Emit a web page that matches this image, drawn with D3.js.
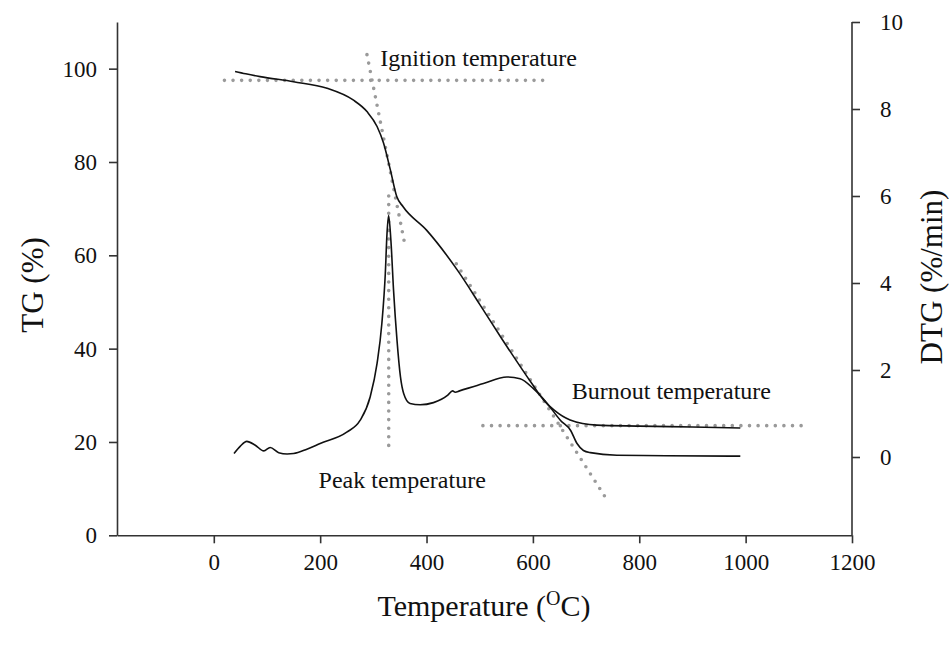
<!DOCTYPE html>
<html>
<head>
<meta charset="utf-8">
<script src="https://cdn.jsdelivr.net/npm/d3@7"></script>
<style>
  body { margin: 0; background: #fff; }
  svg { display: block; font-family: "Liberation Serif", "Times New Roman", serif; }
</style>
</head>
<body>
<svg id="chart" width="949" height="647"></svg>
<script>
// TG curve (temperature in C, mass %)
const tgTemp = [40, 60, 87, 150, 213, 262, 288, 307, 319, 332, 344, 356, 400, 460, 500, 540, 600, 620, 640, 670, 720, 800, 900, 990];
const tgVals = [99.4, 98.9, 98.3, 97.2, 95.8, 93.3, 90.8, 87.6, 84.1, 78.3, 72.6, 70.4, 65.4, 56.5, 49.5, 42.4, 32.2, 29.0, 26.8, 24.7, 23.6, 23.4, 23.2, 23.0];

// DTG curve (temperature in C, %/min)
const dtgTemp = [38, 50, 62, 78, 94, 106, 122, 138, 150, 175, 200, 250, 275, 294, 307, 316, 322.5, 325.7, 328.7, 333, 338, 344.5, 351, 357, 369, 388, 413, 440, 449, 454, 462, 507, 551, 576, 601, 627, 652, 671, 683, 695, 708, 758, 850, 990];
const dtgVals = [0.08, 0.25, 0.36, 0.27, 0.14, 0.22, 0.10, 0.07, 0.08, 0.18, 0.31, 0.57, 0.84, 1.38, 2.15, 3.07, 4.22, 5.14, 5.55, 4.98, 3.83, 2.68, 1.84, 1.46, 1.23, 1.20, 1.25, 1.42, 1.52, 1.49, 1.52, 1.69, 1.84, 1.80, 1.57, 1.23, 0.84, 0.61, 0.31, 0.15, 0.10, 0.04, 0.03, 0.02];

// construction lines, in data units [[T, value], [T, value]]
const ignitionLevel = [[20, 97.5], [625, 97.5]];
const ignitionTangent = [[288, 103.0], [360, 61.9]];
const burnoutTangent = [[456, 58.2], [736, 8.2]];
const burnoutLevel = [[506, 23.5], [1110, 23.5]];
const peakLine = [[328.9, 6.0], [328.9, 0.1]]; // on DTG axis

const annotations = ['Ignition temperature', 'Burnout temperature', 'Peak temperature'];
const annotationAt = [[313, 100.6], [673, 29.2], [197, 10.1]];

const xTicks = [0, 200, 400, 600, 800, 1000, 1200];
const tgTicks = [0, 20, 40, 60, 80, 100];
const dtgTicks = [0, 2, 4, 6, 8, 10];

const svg = d3.select('#chart');
const plotLeft = 117, plotRight = 852, plotTop = 22, plotBottom = 535.3;

const x = d3.scaleLinear().domain([-182, 1200]).range([plotLeft, plotRight]);
const yTG = d3.scaleLinear().domain([0, 110]).range([plotBottom, plotTop]);
const yDTG = d3.scaleLinear().domain([-1.8, 10]).range([plotBottom, plotTop]);

const axisColor = '#333';
const tickFont = 23;

function styleAxis(g) {
  g.selectAll('path, line').attr('stroke', axisColor).attr('stroke-width', 1.6);
  g.selectAll('text')
    .attr('fill', '#111')
    .style('font-family', '"Liberation Serif", "Times New Roman", serif')
    .style('font-size', tickFont + 'px');
}

svg.append('g')
  .attr('transform', `translate(0,${plotBottom})`)
  .call(d3.axisBottom(x).tickValues(xTicks).tickFormat(d3.format('d'))
    .tickSize(8).tickSizeOuter(0).tickPadding(10))
  .call(styleAxis);

svg.append('g')
  .attr('transform', `translate(${plotLeft},0)`)
  .call(d3.axisLeft(yTG).tickValues(tgTicks).tickSize(8).tickSizeOuter(0).tickPadding(12))
  .call(styleAxis);

let rightAxis = svg.append('g')
  .attr('transform', `translate(${plotRight},0)`)
  .call(d3.axisRight(yDTG).tickValues(dtgTicks).tickSize(8).tickSizeOuter(0).tickPadding(20))
  .call(styleAxis);
// the 1200 tick hangs off the bottom corner, extend the right spine to it
rightAxis.select('.domain').attr('d', `M0,${plotTop}V${plotBottom}`);

// guide lines first so curves sit on top
let dotted = d3.line().x(d => x(d[0])).y(d => yTG(d[1]));
let dottedDTG = d3.line().x(d => x(d[0])).y(d => yDTG(d[1]));

[ignitionLevel, ignitionTangent, burnoutTangent, burnoutLevel].forEach(seg => {
  svg.append('path')
    .attr('d', dotted(seg))
    .attr('fill', 'none')
    .attr('stroke', '#9a9a9a')
    .attr('stroke-width', 3.6)
    .attr('stroke-linecap', 'round')
    .attr('stroke-dasharray', '0,8.6');
});
svg.append('path')
  .attr('d', dottedDTG(peakLine))
  .attr('fill', 'none')
  .attr('stroke', '#9a9a9a')
  .attr('stroke-width', 3.6)
  .attr('stroke-linecap', 'round')
  .attr('stroke-dasharray', '0,8.6');

let tgLine = d3.line()
  .x((d, i) => x(tgTemp[i]))
  .y(d => yTG(d))
  .curve(d3.curveMonotoneX);

let dtgLine = d3.line()
  .x((d, i) => x(dtgTemp[i]))
  .y(d => yDTG(d))
  .curve(d3.curveMonotoneX);

svg.append('path')
  .attr('d', tgLine(tgVals))
  .attr('fill', 'none')
  .attr('stroke', '#111')
  .attr('stroke-width', 1.6);

svg.append('path')
  .attr('d', dtgLine(dtgVals))
  .attr('fill', 'none')
  .attr('stroke', '#111')
  .attr('stroke-width', 1.6);

annotations.forEach((txt, i) => {
  svg.append('text')
    .attr('x', x(annotationAt[i][0]))
    .attr('y', yTG(annotationAt[i][1]))
    .attr('fill', '#111')
    .style('font-size', '24px')
    .text(txt);
});

// axis titles
svg.append('text')
  .attr('transform', 'translate(43,285) rotate(-90)')
  .attr('text-anchor', 'middle')
  .attr('fill', '#111')
  .style('font-size', '31px')
  .text('TG (%)');

svg.append('text')
  .attr('transform', 'translate(942,277) rotate(-90)')
  .attr('text-anchor', 'middle')
  .attr('fill', '#111')
  .style('font-size', '31px')
  .text('DTG (%/min)');

let xTitle = svg.append('text')
  .attr('x', 484)
  .attr('y', 616)
  .attr('text-anchor', 'middle')
  .attr('fill', '#111')
  .style('font-size', '30px');
xTitle.append('tspan').text('Temperature (');
xTitle.append('tspan').attr('dy', -11).style('font-size', '20px').text('O');
xTitle.append('tspan').attr('dy', 11).text('C)');
</script>
</body>
</html>
